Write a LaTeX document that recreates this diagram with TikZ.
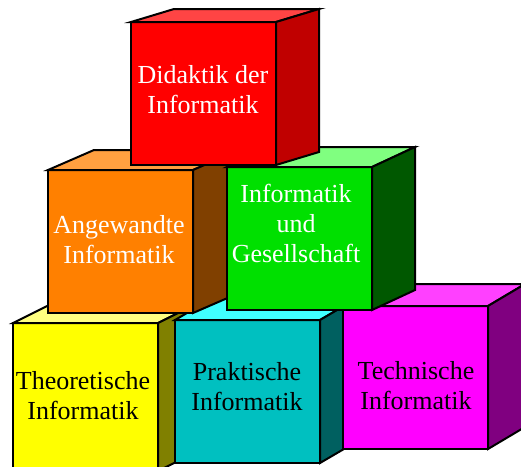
\documentclass[tikz,border=0pt]{standalone}
\usepackage{fontspec}
\setmainfont{Liberation Serif}
\usepackage{tikz}

\definecolor{redfront}{HTML}{FF0000}
\definecolor{redtop}{HTML}{FF4444}
\definecolor{redside}{HTML}{C00000}
\definecolor{orangefront}{HTML}{FF8000}
\definecolor{orangetop}{HTML}{FFA040}
\definecolor{orangeside}{HTML}{804000}
\definecolor{greenfront}{HTML}{00E000}
\definecolor{greentop}{HTML}{80FF80}
\definecolor{greenside}{HTML}{005800}
\definecolor{yellowfront}{HTML}{FFFF00}
\definecolor{yellowtop}{HTML}{FFFF80}
\definecolor{yellowside}{HTML}{808000}
\definecolor{cyanfront}{HTML}{00C0C0}
\definecolor{cyantop}{HTML}{40FFFF}
\definecolor{cyanside}{HTML}{006060}
\definecolor{magentafront}{HTML}{FF00FF}
\definecolor{magentatop}{HTML}{FF40FF}
\definecolor{magentaside}{HTML}{800080}

\tikzset{
  face/.style={draw=black, line width=2pt, line join=miter},
  front/.style={face, anchor=north west, minimum width=145pt, minimum height=143pt, inner sep=0pt, outer sep=0pt},
  lbl/.style={align=center, font=\fontsize{26}{30}\selectfont},
}

% top and side of a cube, drawn from its front node
\newcommand{\cubeback}[5]{
\filldraw[face, fill=#4] (#1.north west) -- ++(#2,#3) -- ([shift={(#2,#3)}]#1.north east) -- (#1.north east) -- cycle;
\filldraw[face, fill=#5] (#1.north east) -- ++(#2,#3) -- ([shift={(#2,#3)}]#1.south east) -- (#1.south east) -- cycle;
}

\begin{document}
\begin{tikzpicture}[x=1pt, y=-1pt]
\useasboundingbox (0,0) rectangle (521,466);
\clip (0,0) rectangle (521,466);

% bottom row
\node[front, fill=yellowfront, minimum height=148pt] (theo) at (13,323) {};
\cubeback{theo}{34}{-17}{yellowtop}{yellowside}
\node[lbl, text=black] (theotext) at (83,396) {Theoretische\\Informatik};

\node[front, fill=cyanfront] (prak) at (175,320) {};
\cubeback{prak}{41}{-24}{cyantop}{cyanside}
\node[lbl, text=black] (praktext) at (247,387) {Praktische\\Informatik};

\node[front, fill=magentafront] (tech) at (343,306) {};
\cubeback{tech}{37}{-22}{magentatop}{magentaside}
\node[lbl, text=black] (techtext) at (416,386) {Technische\\Informatik};

% middle row
\node[front, fill=orangefront] (angew) at (48,170) {};
\cubeback{angew}{46}{-20}{orangetop}{orangeside}
\node[lbl, text=white] (angewtext) at (119,240) {Angewandte\\Informatik};

\node[front, fill=greenfront] (ges) at (227,167) {};
\cubeback{ges}{43}{-20}{greentop}{greenside}
\node[lbl, text=white] (gestext) at (296,223) {Informatik\\und\\Gesellschaft};

% top
\node[front, fill=redfront] (didak) at (131,22) {};
\cubeback{didak}{43}{-13}{redtop}{redside}
\node[lbl, text=white] (didaktext) at (203,90) {Didaktik der\\Informatik};
\end{tikzpicture}
\end{document}
